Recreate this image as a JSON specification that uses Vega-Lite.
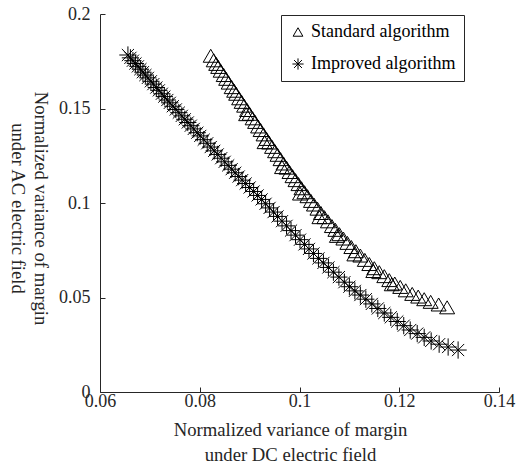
{
  "$schema": "https://vega.github.io/schema/vega-lite/v6.json",
  "width": 399,
  "height": 378,
  "autosize": "none",
  "padding": {"left": 100, "top": 14, "right": 26, "bottom": 74},
  "background": "white",
  "config": {"view": {"stroke": null}, "font": "Liberation Serif"},
  "data": {"values": [
    {"algorithm": "Standard algorithm", "x": 0.0822, "y": 0.1779},
    {"algorithm": "Standard algorithm", "x": 0.0828, "y": 0.1755},
    {"algorithm": "Standard algorithm", "x": 0.0833, "y": 0.1736},
    {"algorithm": "Standard algorithm", "x": 0.0837, "y": 0.1720},
    {"algorithm": "Standard algorithm", "x": 0.0842, "y": 0.1700},
    {"algorithm": "Standard algorithm", "x": 0.0848, "y": 0.1677},
    {"algorithm": "Standard algorithm", "x": 0.0853, "y": 0.1657},
    {"algorithm": "Standard algorithm", "x": 0.0858, "y": 0.1637},
    {"algorithm": "Standard algorithm", "x": 0.0864, "y": 0.1613},
    {"algorithm": "Standard algorithm", "x": 0.0869, "y": 0.1594},
    {"algorithm": "Standard algorithm", "x": 0.0873, "y": 0.1578},
    {"algorithm": "Standard algorithm", "x": 0.0879, "y": 0.1554},
    {"algorithm": "Standard algorithm", "x": 0.0884, "y": 0.1535},
    {"algorithm": "Standard algorithm", "x": 0.0889, "y": 0.1515},
    {"algorithm": "Standard algorithm", "x": 0.0895, "y": 0.1492},
    {"algorithm": "Standard algorithm", "x": 0.0900, "y": 0.1472},
    {"algorithm": "Standard algorithm", "x": 0.0906, "y": 0.1448},
    {"algorithm": "Standard algorithm", "x": 0.0911, "y": 0.1429},
    {"algorithm": "Standard algorithm", "x": 0.0917, "y": 0.1405},
    {"algorithm": "Standard algorithm", "x": 0.0922, "y": 0.1386},
    {"algorithm": "Standard algorithm", "x": 0.0928, "y": 0.1363},
    {"algorithm": "Standard algorithm", "x": 0.0934, "y": 0.1339},
    {"algorithm": "Standard algorithm", "x": 0.0939, "y": 0.1320},
    {"algorithm": "Standard algorithm", "x": 0.0945, "y": 0.1297},
    {"algorithm": "Standard algorithm", "x": 0.0951, "y": 0.1274},
    {"algorithm": "Standard algorithm", "x": 0.0956, "y": 0.1255},
    {"algorithm": "Standard algorithm", "x": 0.0962, "y": 0.1232},
    {"algorithm": "Standard algorithm", "x": 0.0968, "y": 0.1209},
    {"algorithm": "Standard algorithm", "x": 0.0974, "y": 0.1187},
    {"algorithm": "Standard algorithm", "x": 0.0980, "y": 0.1164},
    {"algorithm": "Standard algorithm", "x": 0.0986, "y": 0.1142},
    {"algorithm": "Standard algorithm", "x": 0.0992, "y": 0.1121},
    {"algorithm": "Standard algorithm", "x": 0.0998, "y": 0.1100},
    {"algorithm": "Standard algorithm", "x": 0.1004, "y": 0.1078},
    {"algorithm": "Standard algorithm", "x": 0.1010, "y": 0.1057},
    {"algorithm": "Standard algorithm", "x": 0.1016, "y": 0.1036},
    {"algorithm": "Standard algorithm", "x": 0.1023, "y": 0.1011},
    {"algorithm": "Standard algorithm", "x": 0.1029, "y": 0.0992},
    {"algorithm": "Standard algorithm", "x": 0.1036, "y": 0.0970},
    {"algorithm": "Standard algorithm", "x": 0.1043, "y": 0.0947},
    {"algorithm": "Standard algorithm", "x": 0.1050, "y": 0.0925},
    {"algorithm": "Standard algorithm", "x": 0.1057, "y": 0.0903},
    {"algorithm": "Standard algorithm", "x": 0.1065, "y": 0.0878},
    {"algorithm": "Standard algorithm", "x": 0.1072, "y": 0.0858},
    {"algorithm": "Standard algorithm", "x": 0.1080, "y": 0.0835},
    {"algorithm": "Standard algorithm", "x": 0.1088, "y": 0.0812},
    {"algorithm": "Standard algorithm", "x": 0.1096, "y": 0.0789},
    {"algorithm": "Standard algorithm", "x": 0.1104, "y": 0.0767},
    {"algorithm": "Standard algorithm", "x": 0.1113, "y": 0.0745},
    {"algorithm": "Standard algorithm", "x": 0.1122, "y": 0.0722},
    {"algorithm": "Standard algorithm", "x": 0.1131, "y": 0.0699},
    {"algorithm": "Standard algorithm", "x": 0.1140, "y": 0.0677},
    {"algorithm": "Standard algorithm", "x": 0.1150, "y": 0.0655},
    {"algorithm": "Standard algorithm", "x": 0.1160, "y": 0.0634},
    {"algorithm": "Standard algorithm", "x": 0.1170, "y": 0.0613},
    {"algorithm": "Standard algorithm", "x": 0.1180, "y": 0.0592},
    {"algorithm": "Standard algorithm", "x": 0.1191, "y": 0.0574},
    {"algorithm": "Standard algorithm", "x": 0.1202, "y": 0.0556},
    {"algorithm": "Standard algorithm", "x": 0.1213, "y": 0.0538},
    {"algorithm": "Standard algorithm", "x": 0.1226, "y": 0.0519},
    {"algorithm": "Standard algorithm", "x": 0.1238, "y": 0.0505},
    {"algorithm": "Standard algorithm", "x": 0.1250, "y": 0.0491},
    {"algorithm": "Standard algorithm", "x": 0.1263, "y": 0.0477},
    {"algorithm": "Standard algorithm", "x": 0.1279, "y": 0.0463},
    {"algorithm": "Standard algorithm", "x": 0.1296, "y": 0.0448},
    {"algorithm": "Standard algorithm", "x": 0.0893, "y": 0.1470},
    {"algorithm": "Standard algorithm", "x": 0.0930, "y": 0.1322},
    {"algorithm": "Standard algorithm", "x": 0.0965, "y": 0.1190},
    {"algorithm": "Standard algorithm", "x": 0.1001, "y": 0.1050},
    {"algorithm": "Standard algorithm", "x": 0.1040, "y": 0.0925},
    {"algorithm": "Standard algorithm", "x": 0.1075, "y": 0.0826},
    {"algorithm": "Standard algorithm", "x": 0.1110, "y": 0.0728},
    {"algorithm": "Standard algorithm", "x": 0.1148, "y": 0.0640},
    {"algorithm": "Standard algorithm", "x": 0.1185, "y": 0.0570},
    {"algorithm": "Improved algorithm", "x": 0.0656, "y": 0.1783},
    {"algorithm": "Improved algorithm", "x": 0.0661, "y": 0.1768},
    {"algorithm": "Improved algorithm", "x": 0.0666, "y": 0.1753},
    {"algorithm": "Improved algorithm", "x": 0.0671, "y": 0.1738},
    {"algorithm": "Improved algorithm", "x": 0.0676, "y": 0.1723},
    {"algorithm": "Improved algorithm", "x": 0.0681, "y": 0.1708},
    {"algorithm": "Improved algorithm", "x": 0.0686, "y": 0.1692},
    {"algorithm": "Improved algorithm", "x": 0.0691, "y": 0.1677},
    {"algorithm": "Improved algorithm", "x": 0.0696, "y": 0.1662},
    {"algorithm": "Improved algorithm", "x": 0.0702, "y": 0.1644},
    {"algorithm": "Improved algorithm", "x": 0.0707, "y": 0.1629},
    {"algorithm": "Improved algorithm", "x": 0.0713, "y": 0.1611},
    {"algorithm": "Improved algorithm", "x": 0.0718, "y": 0.1596},
    {"algorithm": "Improved algorithm", "x": 0.0724, "y": 0.1578},
    {"algorithm": "Improved algorithm", "x": 0.0729, "y": 0.1563},
    {"algorithm": "Improved algorithm", "x": 0.0735, "y": 0.1545},
    {"algorithm": "Improved algorithm", "x": 0.0740, "y": 0.1530},
    {"algorithm": "Improved algorithm", "x": 0.0746, "y": 0.1512},
    {"algorithm": "Improved algorithm", "x": 0.0752, "y": 0.1495},
    {"algorithm": "Improved algorithm", "x": 0.0758, "y": 0.1478},
    {"algorithm": "Improved algorithm", "x": 0.0764, "y": 0.1461},
    {"algorithm": "Improved algorithm", "x": 0.0770, "y": 0.1443},
    {"algorithm": "Improved algorithm", "x": 0.0776, "y": 0.1426},
    {"algorithm": "Improved algorithm", "x": 0.0782, "y": 0.1409},
    {"algorithm": "Improved algorithm", "x": 0.0788, "y": 0.1392},
    {"algorithm": "Improved algorithm", "x": 0.0795, "y": 0.1372},
    {"algorithm": "Improved algorithm", "x": 0.0801, "y": 0.1355},
    {"algorithm": "Improved algorithm", "x": 0.0808, "y": 0.1335},
    {"algorithm": "Improved algorithm", "x": 0.0815, "y": 0.1316},
    {"algorithm": "Improved algorithm", "x": 0.0822, "y": 0.1296},
    {"algorithm": "Improved algorithm", "x": 0.0829, "y": 0.1276},
    {"algorithm": "Improved algorithm", "x": 0.0836, "y": 0.1257},
    {"algorithm": "Improved algorithm", "x": 0.0843, "y": 0.1237},
    {"algorithm": "Improved algorithm", "x": 0.0850, "y": 0.1218},
    {"algorithm": "Improved algorithm", "x": 0.0857, "y": 0.1199},
    {"algorithm": "Improved algorithm", "x": 0.0864, "y": 0.1179},
    {"algorithm": "Improved algorithm", "x": 0.0871, "y": 0.1160},
    {"algorithm": "Improved algorithm", "x": 0.0878, "y": 0.1140},
    {"algorithm": "Improved algorithm", "x": 0.0885, "y": 0.1121},
    {"algorithm": "Improved algorithm", "x": 0.0892, "y": 0.1103},
    {"algorithm": "Improved algorithm", "x": 0.0900, "y": 0.1082},
    {"algorithm": "Improved algorithm", "x": 0.0908, "y": 0.1061},
    {"algorithm": "Improved algorithm", "x": 0.0916, "y": 0.1040},
    {"algorithm": "Improved algorithm", "x": 0.0924, "y": 0.1019},
    {"algorithm": "Improved algorithm", "x": 0.0932, "y": 0.0996},
    {"algorithm": "Improved algorithm", "x": 0.0940, "y": 0.0974},
    {"algorithm": "Improved algorithm", "x": 0.0948, "y": 0.0952},
    {"algorithm": "Improved algorithm", "x": 0.0956, "y": 0.0929},
    {"algorithm": "Improved algorithm", "x": 0.0965, "y": 0.0904},
    {"algorithm": "Improved algorithm", "x": 0.0974, "y": 0.0879},
    {"algorithm": "Improved algorithm", "x": 0.0983, "y": 0.0854},
    {"algorithm": "Improved algorithm", "x": 0.0992, "y": 0.0830},
    {"algorithm": "Improved algorithm", "x": 0.1001, "y": 0.0806},
    {"algorithm": "Improved algorithm", "x": 0.1010, "y": 0.0781},
    {"algorithm": "Improved algorithm", "x": 0.1019, "y": 0.0757},
    {"algorithm": "Improved algorithm", "x": 0.1028, "y": 0.0733},
    {"algorithm": "Improved algorithm", "x": 0.1038, "y": 0.0707},
    {"algorithm": "Improved algorithm", "x": 0.1048, "y": 0.0683},
    {"algorithm": "Improved algorithm", "x": 0.1058, "y": 0.0659},
    {"algorithm": "Improved algorithm", "x": 0.1068, "y": 0.0634},
    {"algorithm": "Improved algorithm", "x": 0.1079, "y": 0.0608},
    {"algorithm": "Improved algorithm", "x": 0.1090, "y": 0.0581},
    {"algorithm": "Improved algorithm", "x": 0.1100, "y": 0.0557},
    {"algorithm": "Improved algorithm", "x": 0.1111, "y": 0.0535},
    {"algorithm": "Improved algorithm", "x": 0.1122, "y": 0.0513},
    {"algorithm": "Improved algorithm", "x": 0.1133, "y": 0.0491},
    {"algorithm": "Improved algorithm", "x": 0.1145, "y": 0.0466},
    {"algorithm": "Improved algorithm", "x": 0.1157, "y": 0.0442},
    {"algorithm": "Improved algorithm", "x": 0.1170, "y": 0.0418},
    {"algorithm": "Improved algorithm", "x": 0.1183, "y": 0.0395},
    {"algorithm": "Improved algorithm", "x": 0.1196, "y": 0.0373},
    {"algorithm": "Improved algorithm", "x": 0.1209, "y": 0.0351},
    {"algorithm": "Improved algorithm", "x": 0.1222, "y": 0.0328},
    {"algorithm": "Improved algorithm", "x": 0.1236, "y": 0.0309},
    {"algorithm": "Improved algorithm", "x": 0.1250, "y": 0.0289},
    {"algorithm": "Improved algorithm", "x": 0.1264, "y": 0.0270},
    {"algorithm": "Improved algorithm", "x": 0.1280, "y": 0.0253},
    {"algorithm": "Improved algorithm", "x": 0.1298, "y": 0.0238},
    {"algorithm": "Improved algorithm", "x": 0.1318, "y": 0.0222}
  ]},
  "mark": {"type": "point", "filled": false, "strokeWidth": 1, "size": 225, "opacity": 1, "color": "black"},
  "encoding": {
    "x": {
      "field": "x", "type": "quantitative",
      "scale": {"domain": [0.06, 0.14], "nice": false, "zero": false},
      "axis": {
        "values": [0.06, 0.08, 0.1, 0.12, 0.14], "format": "~g", "grid": false,
        "tickSize": -5, "labelPadding": 5, "labelFlush": false, "labelOverlap": false,
        "domainColor": "#262626", "tickColor": "#262626", "labelColor": "#262626",
        "labelFont": "Liberation Serif", "labelFontSize": 18,
        "title": ["Normalized variance of margin", "under DC electric field"],
        "titleFont": "Liberation Serif", "titleFontSize": 18.7, "titleFontWeight": "normal", "titleColor": "#262626",
        "titleX": 190, "titleY": 37, "titleBaseline": "middle", "titleAlign": "center", "titleLineHeight": 25
      }
    },
    "y": {
      "field": "y", "type": "quantitative",
      "scale": {"domain": [0, 0.2], "nice": false, "zero": false},
      "axis": {
        "values": [0, 0.05, 0.1, 0.15, 0.2], "format": "~g", "grid": false,
        "tickSize": -5, "labelPadding": 15, "labelOverlap": false, "labelFlush": false,
        "domainColor": "#262626", "tickColor": "#262626", "labelColor": "#262626",
        "labelFont": "Liberation Serif", "labelFontSize": 18,
        "title": ["Normalized variance of margin", "under AC electric field"],
        "titleFont": "Liberation Serif", "titleFontSize": 18.7, "titleFontWeight": "normal", "titleColor": "#262626",
        "titleAngle": 90, "titleX": -60, "titleY": 194, "titleBaseline": "middle", "titleAlign": "center", "titleLineHeight": 23
      }
    },
    "shape": {
      "field": "algorithm", "type": "nominal",
      "scale": {
        "domain": ["Standard algorithm", "Improved algorithm"],
        "range": ["triangle-up", "M0,-1.15L0,1.15M-1.15,0L1.15,0M-0.81,-0.81L0.81,0.81M-0.81,0.81L0.81,-0.81"]
      },
      "legend": {
        "title": null, "orient": "none", "legendX": 181, "legendY": 1,
        "direction": "vertical",
        "fillColor": "white", "strokeColor": "#262626", "padding": 8,
        "rowPadding": 14, "labelOffset": 4,
        "symbolSize": 95, "symbolStrokeColor": "black", "symbolStrokeWidth": 1, "symbolFillColor": "transparent",
        "labelFont": "Liberation Serif", "labelFontSize": 18, "labelColor": "black", "labelLimit": 300
      }
    }
  }
}
